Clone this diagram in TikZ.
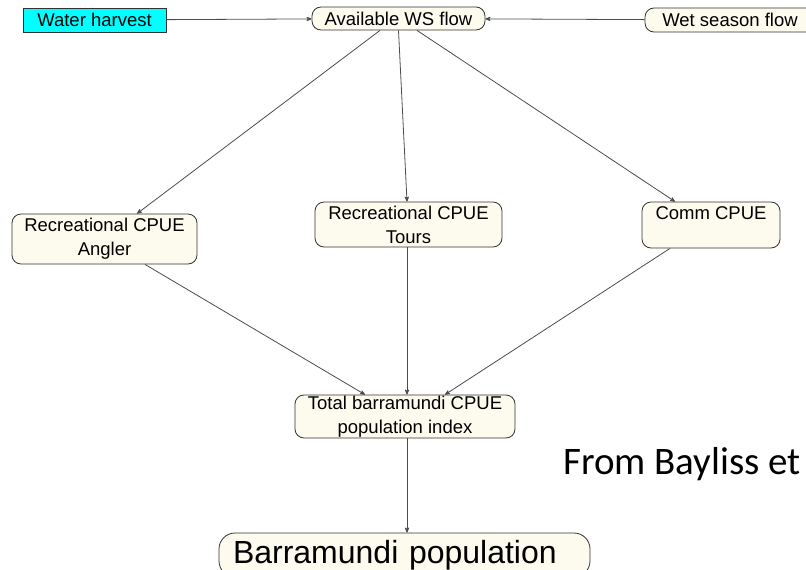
\documentclass[tikz,border=0pt]{standalone}
\usepackage{fontspec}
\setmainfont{Liberation Sans}
\newfontfamily\notefont{Carlito}
\usepackage{tikz}
\usetikzlibrary{arrows,positioning}
\definecolor{boxcream}{RGB}{253,251,238}
\definecolor{harvestcyan}{RGB}{0,255,255}
\tikzset{
    %Define standard arrow tip
    >=stealth',
    %Define style for boxes
    varbox/.style={
           rectangle,
           rounded corners=9pt,
           draw=black!80, thick,
           fill=boxcream,
           inner sep=0pt,
           font=\fontsize{18.5}{24}\selectfont,
           align=center,
           text centered},
    inputbox/.style={
           rectangle,
           draw=black!80, thick,
           fill=harvestcyan,
           inner sep=0pt,
           minimum width=143pt,
           minimum height=24pt,
           font=\fontsize{18.5}{24}\selectfont,
           text centered},
    bigbox/.style={
           varbox,
           rounded corners=16pt,
           inner xsep=14pt,
           text width=343pt,
           align=left,
           font=\fontsize{32}{36}\selectfont},
    % Define arrow style
    pil/.style={
           ->,
           color=black!70,
           line width=0.8pt}
}

\begin{document}
\begin{tikzpicture}[x=1pt,y=-1pt]
\useasboundingbox (0,0) rectangle (806,570);
\clip (0,0) rectangle (806,570);

 %nodes
\node[inputbox] (harvest) at (94.5,20) {Water harvest};
\node[varbox, minimum width=173pt, minimum height=23pt] (aws) at (398.5,18.5) {Available WS flow};
\node[varbox, minimum width=170pt, minimum height=24pt] (wet) at (730,20) {Wet season flow};

\node[varbox, minimum width=185pt, minimum height=50pt] (angler) at (104.5,239) {Recreational CPUE\\Angler};
\node[varbox, minimum width=187pt, minimum height=45pt] (tours) at (408.5,224.5) {Recreational CPUE\\Tours};
\node[varbox, minimum width=138pt, minimum height=46pt] (comm) at (711,225) {Comm CPUE\\~};

\node[varbox, minimum width=220pt, minimum height=43pt] (total) at (405,416.5) {Total barramundi CPUE\\population index};
\node[bigbox, minimum height=44pt] (barra) at (404.5,555) {Barramundi population};

\node[anchor=base west, inner sep=0pt, font=\notefont\fontsize{39}{46}\selectfont] (note) at (563,474) {From Bayliss et};

 %connectors
\path[pil]
    (harvest) edge (aws)
    (wet) edge (aws)
    ([xshift=-18.5pt]aws.south) edge ([xshift=32.5pt]angler.north)
    (aws.south) edge ([xshift=-1.5pt]tours.north)
    ([xshift=18.5pt]aws.south) edge ([xshift=-36pt]comm.north)
    ([xshift=40.5pt]angler.south) edge ([xshift=-40pt]total.north)
    ([xshift=-1.5pt]tours.south) edge ([xshift=2pt]total.north)
    ([xshift=-41pt]comm.south) edge ([xshift=40pt]total.north)
    ([xshift=2pt]total.south) edge ([xshift=2.5pt]barra.north);

\end{tikzpicture}
\end{document}
